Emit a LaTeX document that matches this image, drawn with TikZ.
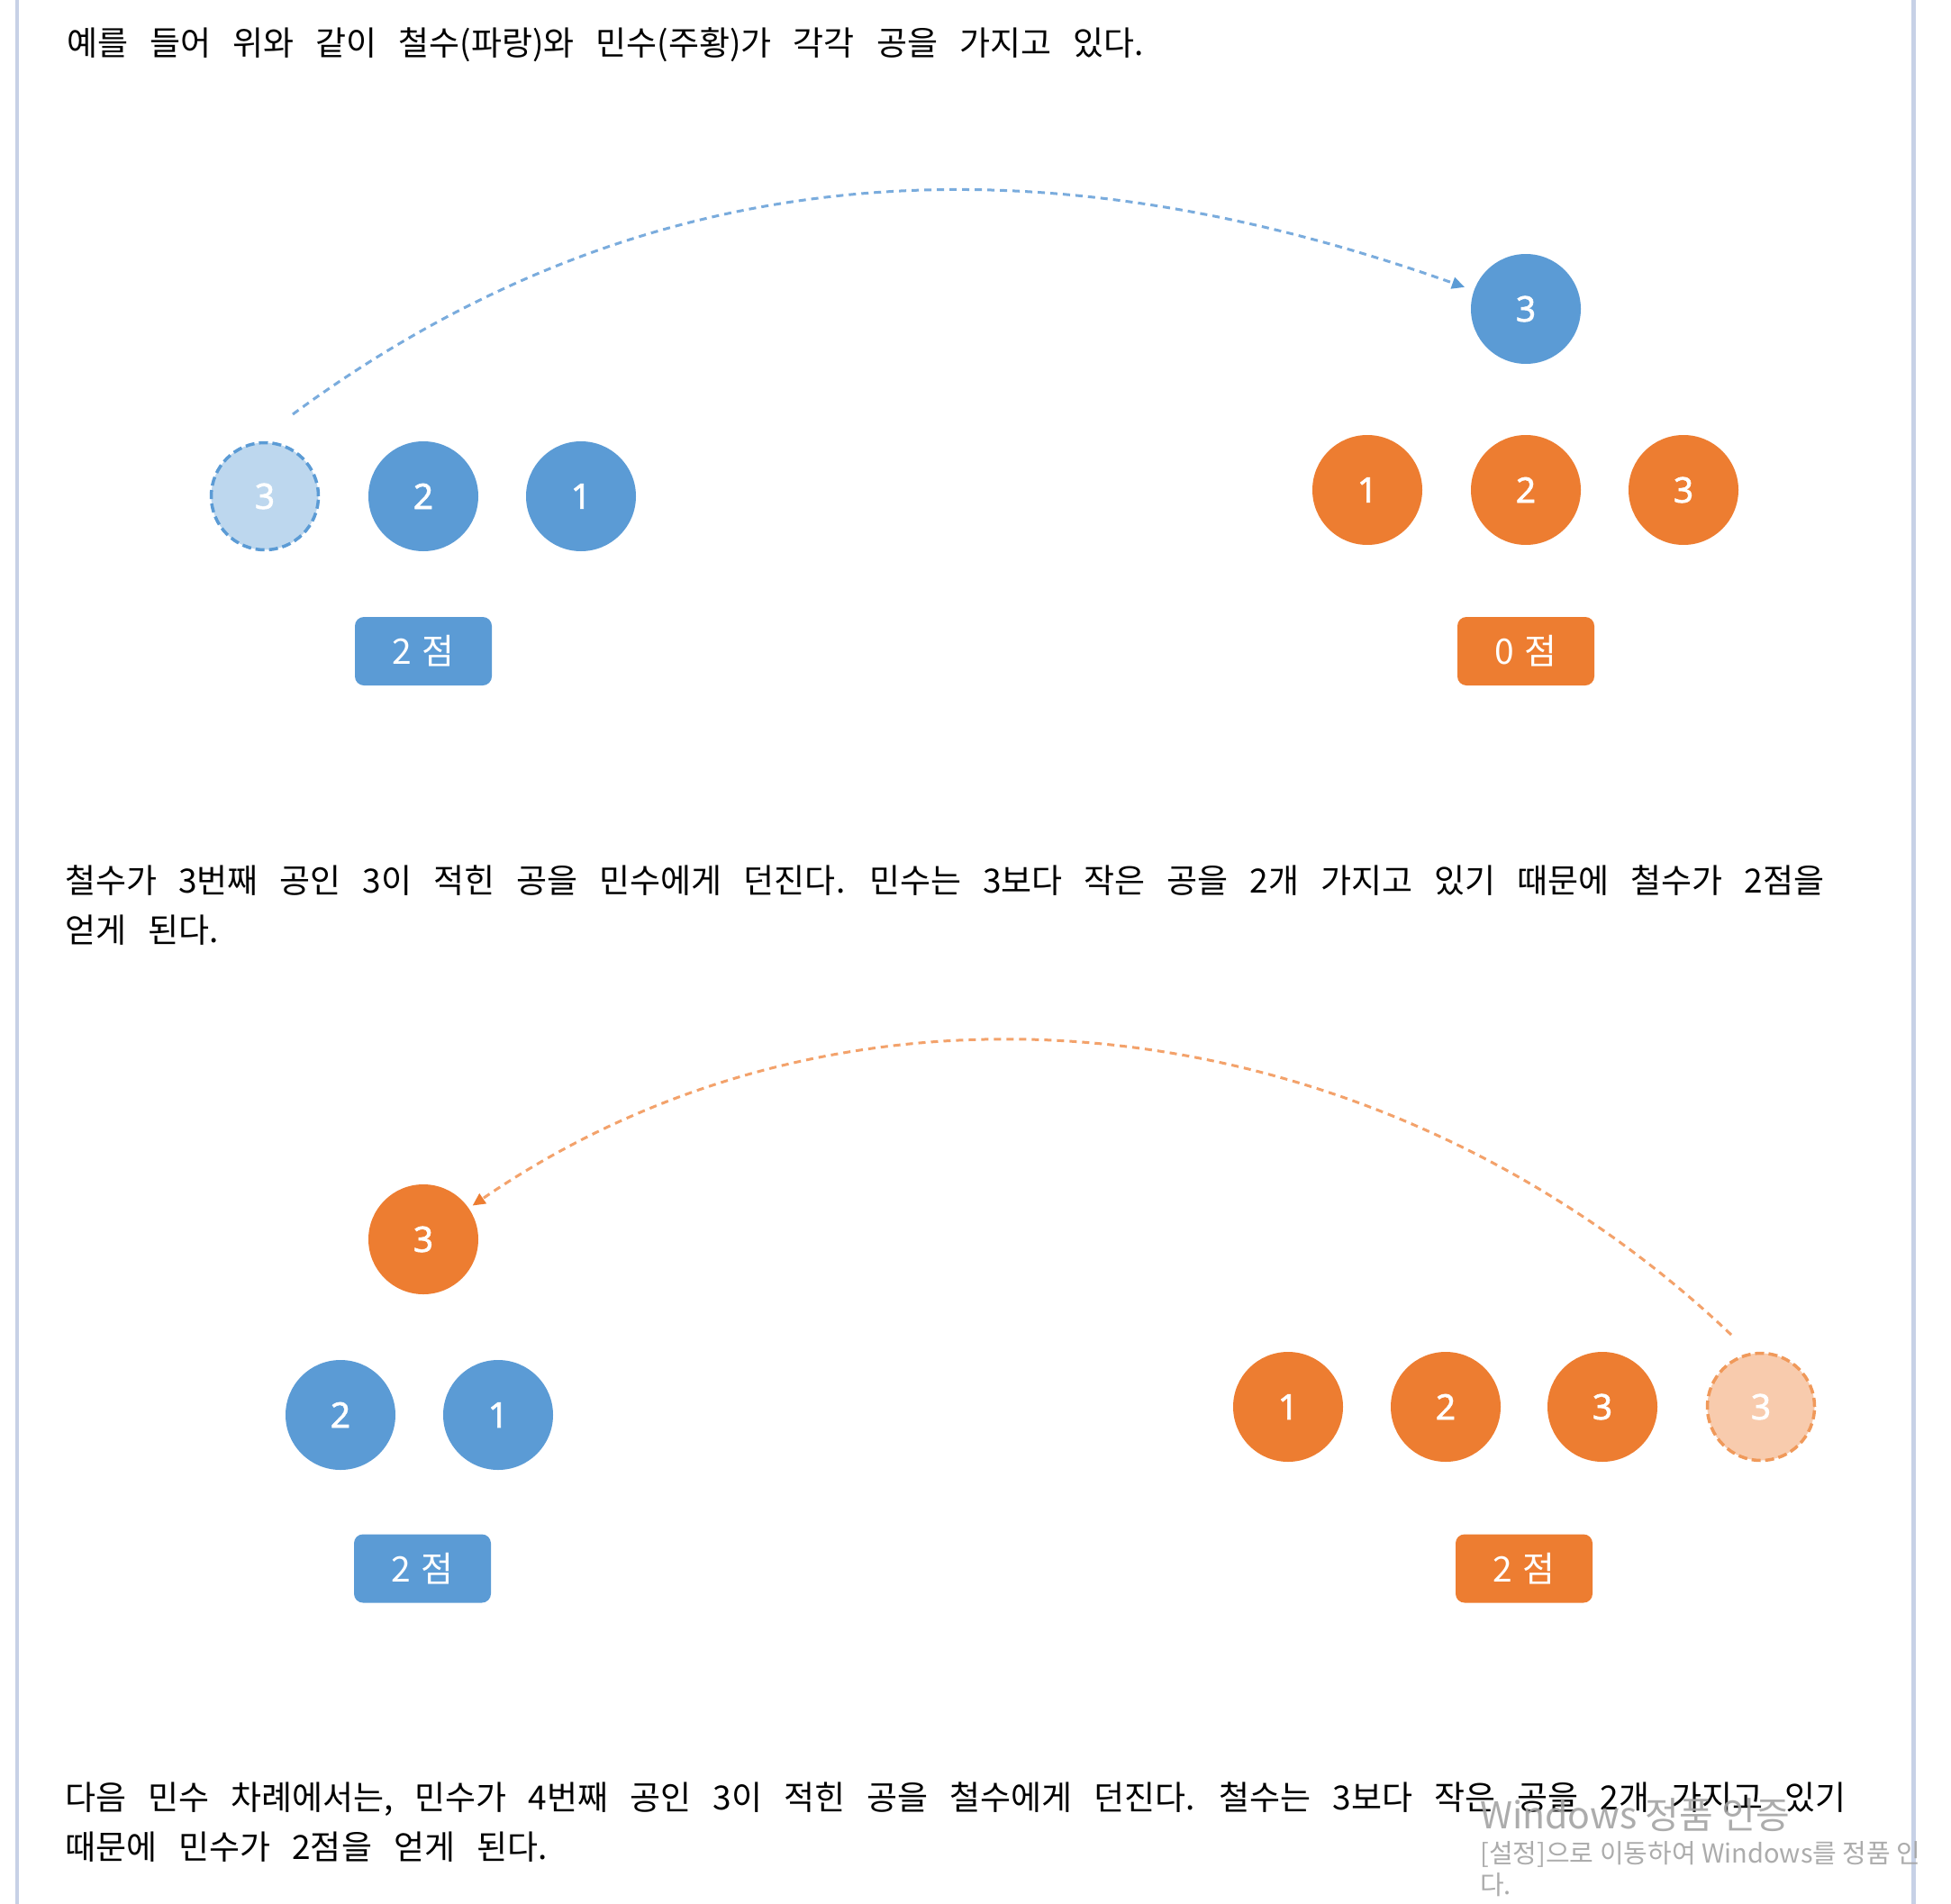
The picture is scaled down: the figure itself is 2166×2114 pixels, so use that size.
\documentclass[tikz,border=0pt]{standalone}
\usepackage{fontspec}
\usetikzlibrary{arrows.meta,calc}
\newfontfamily\kr{Noto Sans CJK KR}
\newfontfamily\numf[FakeBold=1.6]{Noto Sans}
\newcommand\parafont{\kr\fontsize{37}{44}\selectfont\spaceskip 24pt\relax}
\newcommand\scorefont{\kr\fontsize{39}{39}\selectfont\spaceskip 11pt\relax}
\definecolor{cblue}{HTML}{5B9BD5}
\definecolor{corange}{HTML}{ED7D31}
\definecolor{gblue}{HTML}{BDD7EE}
\definecolor{gorange}{HTML}{F8CBAD}
\definecolor{gorangeline}{HTML}{F0995A}
\definecolor{ablue}{HTML}{7AACDD}
\definecolor{aorange}{HTML}{F3A26B}
\definecolor{framec}{HTML}{C7D1E6}
\definecolor{wmc}{HTML}{A3A3A3}
\tikzset{
  ball/.style={circle, minimum size=122pt, inner sep=0pt, text=white,
    font=\numf\fontsize{39}{39}\selectfont},
  bball/.style={ball, fill=cblue},
  oball/.style={ball, fill=corange},
  gbball/.style={ball, minimum size=119pt, fill=gblue, draw=cblue, line width=3.5pt, dash pattern=on 10pt off 5pt},
  goball/.style={ball, minimum size=119pt, fill=gorange, draw=gorangeline, line width=3.5pt, dash pattern=on 10pt off 5pt},
  score/.style={rounded corners=10pt, minimum width=152pt, minimum height=76pt, inner sep=0pt, text=white,
    font=\scorefont},
  bscore/.style={score, fill=cblue},
  oscore/.style={score, fill=corange},
  para/.style={anchor=base west, inner sep=0pt, font=\parafont},
  wmbig/.style={anchor=base west, inner sep=0pt, text=wmc, opacity=0.9, font=\kr\fontsize{41}{44}\selectfont},
  wmsmall/.style={anchor=base west, inner sep=0pt, text=wmc, opacity=0.9, font=\kr\fontsize{29}{30}\selectfont},
  throwb/.style={draw=ablue, line width=3pt, dash pattern=on 8pt off 6pt,
    -{Triangle[length=14pt,width=13pt,color=cblue]}, shorten >=11pt},
  throwo/.style={draw=aorange, line width=3pt, dash pattern=on 8pt off 6pt,
    -{Triangle[length=14pt,width=13pt,color=corange]}, shorten >=5pt},
  framel/.style={draw=framec, line width=4.5pt}
}
\begin{document}
\begin{tikzpicture}[x=1pt,y=-1pt]
\useasboundingbox (0,0) rectangle (2166,2114);
\fill[white] (0,0) rectangle (2166,2114);
% frame lines
\draw[framel] (19,0) -- (19,2114);
\draw[framel] (2124.5,0) -- (2124.5,2114);

% text 1
\node[para] (t1) at (74,62) {예를 들어 위와 같이 철수(파랑)와 민수(주황)가 각각 공을 가지고 있다.};

% top scene
\node[gbball] (tg3) at (294,551) {3};
\node[bball] (tb2) at (470,551) {2};
\node[bball] (tb1) at (645,551) {1};
\node[bball] (tb3) at (1694,343) {3};
\node[oball] (to1) at (1518,544) {1};
\node[oball] (to2) at (1694,544) {2};
\node[oball] (to3) at (1869,544) {3};
\node[bscore] (ts1) at (470,723) {2 점};
\node[oscore] (ts2) at (1694,723) {0 점};
\coordinate (a1s) at ($(tg3)+(31,-91)$);
\draw[throwb] (a1s) .. controls (726,165) and (1156,152) .. (tb3);

% text 2
\node[para] (t2a) at (72,991) {철수가 3번째 공인 3이 적힌 공을 민수에게 던진다. 민수는 3보다 작은 공을 2개 가지고 있기 때문에 철수가 2점을};
\node[para] (t2b) at (72,1046) {얻게 된다.};

% bottom scene
\node[oball] (bo3t) at (470,1376) {3};
\node[bball] (bb2) at (378,1571) {2};
\node[bball] (bb1) at (553,1571) {1};
\node[oball] (bo1) at (1430,1562) {1};
\node[oball] (bo2) at (1605,1562) {2};
\node[oball] (bo3) at (1779,1562) {3};
\node[goball] (bg3) at (1955,1562) {3};
\node[bscore] (bs1) at (469,1741.5) {2 점};
\node[oscore] (bs2) at (1692,1741.5) {2 점};
\coordinate (a2s) at ($(bg3)+(-33,-80)$);
\draw[throwo] (a2s) .. controls (1540,1119) and (960,1040) .. (bo3t);

% text 3
\node[para] (t3a) at (72,2009) {다음 민수 차례에서는, 민수가 4번째 공인 3이 적힌 공을 철수에게 던진다. 철수는 3보다 작은 공을 2개 가지고 있기};
\node[para] (t3b) at (72,2064) {때문에 민수가 2점을 얻게 된다.};

% watermark
\node[wmbig] (w1) at (1643,2030) {Windows 정품 인증};
\node[wmsmall] (w2) at (1643,2068) {[설정]으로 이동하여 Windows를 정품 인};
\node[wmsmall] (w3) at (1643,2103) {다.};
\end{tikzpicture}
\end{document}
